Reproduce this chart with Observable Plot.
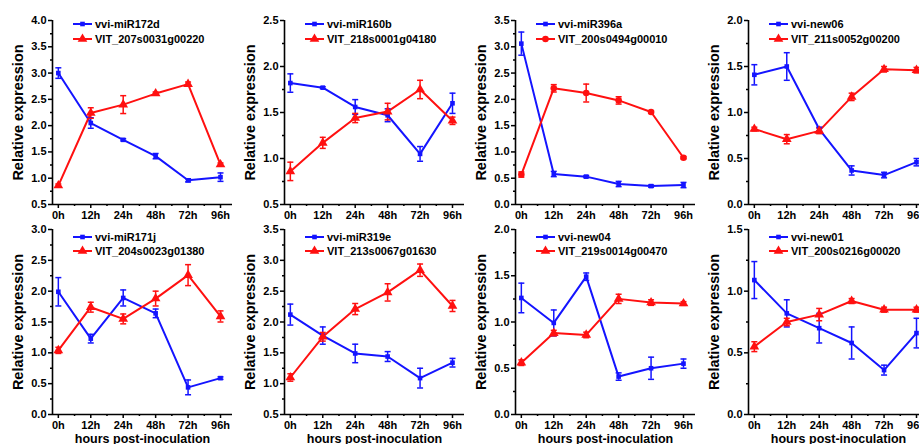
<!DOCTYPE html>
<html><head><meta charset="utf-8">
<script src="https://cdn.jsdelivr.net/npm/d3@7"></script>
<script src="https://cdn.jsdelivr.net/npm/@observablehq/plot@0.6"></script>
<style>
body{margin:0;background:#fff;}
#wrap{position:relative;width:919px;height:444px;overflow:hidden;font-family:"Liberation Sans",Arial,sans-serif;font-weight:bold;}
.panel{position:absolute;width:232px;height:222px;}
.panel svg{overflow:visible;}
.legend{position:absolute;}
</style></head><body><div id="wrap"></div>
<script>
const times = ["0h","12h","24h","48h","72h","96h"];
const mirNames = ["vvi-miR172d","vvi-miR160b","vvi-miR396a","vvi-new06","vvi-miR171j","vvi-miR319e","vvi-new04","vvi-new01"];
const geneNames = ["VIT_207s0031g00220","VIT_218s0001g04180","VIT_200s0494g00010","VIT_211s0052g00200","VIT_204s0023g01380","VIT_213s0067g01630","VIT_219s0014g00470","VIT_200s0216g00020"];
const mirValues = [
  [3.00,2.05,1.73,1.42,0.96,1.02],
  [1.82,1.77,1.56,1.47,1.05,1.60],
  [3.06,0.58,0.53,0.39,0.35,0.37],
  [1.41,1.50,0.82,0.37,0.32,0.46],
  [1.99,1.23,1.89,1.64,0.44,0.59],
  [2.12,1.78,1.49,1.44,1.09,1.34],
  [1.26,0.99,1.49,0.41,0.50,0.55],
  [1.09,0.82,0.70,0.58,0.36,0.66]
];
const mirErrors = [
  [0.10,0.10,0.02,0.05,0.03,0.08],
  [0.10,0.01,0.08,0.07,0.08,0.11],
  [0.22,0.05,0.02,0.05,0.02,0.05],
  [0.11,0.15,0.02,0.05,0.03,0.04],
  [0.23,0.07,0.13,0.07,0.12,0.02],
  [0.17,0.14,0.15,0.08,0.16,0.07],
  [0.16,0.14,0.04,0.04,0.12,0.05],
  [0.15,0.11,0.12,0.13,0.04,0.12]
];
const geneValues = [
  [0.86,2.24,2.40,2.61,2.79,1.26],
  [0.86,1.17,1.44,1.51,1.75,1.41],
  [0.57,2.21,2.12,1.98,1.76,0.89],
  [0.82,0.71,0.80,1.17,1.47,1.46],
  [1.04,1.74,1.55,1.88,2.26,1.59],
  [1.10,1.76,2.21,2.48,2.84,2.26],
  [0.56,0.88,0.86,1.25,1.21,1.20],
  [0.55,0.75,0.81,0.92,0.85,0.85]
];
const geneErrors = [
  [0.03,0.10,0.17,0.03,0.04,0.03],
  [0.10,0.06,0.05,0.09,0.10,0.04],
  [0.05,0.07,0.17,0.07,0.02,0.02],
  [0.02,0.05,0.03,0.04,0.03,0.03],
  [0.05,0.08,0.08,0.12,0.17,0.09],
  [0.06,0.07,0.09,0.14,0.10,0.09],
  [0.03,0.03,0.03,0.05,0.03,0.02],
  [0.04,0.03,0.05,0.02,0.02,0.02]
];
const yDomains = [[0.5,4.0],[0.5,2.5],[0,3.5],[0,2],[0,3],[0.5,3.5],[0,2],[0,1.5]];
const geneSymbols = ["triangle","triangle","circle","triangle","triangle","triangle","triangle","triangle"];

const BLUE = "#1414ff", RED = "#ff1010";
const capSymbol = {draw(ctx, size){ const w = Math.sqrt(size/Math.PI); ctx.moveTo(-w,0); ctx.lineTo(w,0); }};
const wrap = document.getElementById("wrap");
const lefts = [0,232,463,696];

for (let p = 0; p < 8; p++) {
  const row = Math.floor(p/4), col = p%4;
  const mt = row === 0 ? 20 : 7, mb = row === 0 ? 18 : 30;
  const [y0, y1] = yDomains[p];
  const mir = times.map((t,i)=>({i, v: mirValues[p][i], e: mirErrors[p][i]}));
  const gene = times.map((t,i)=>({i, v: geneValues[p][i], e: geneErrors[p][i]}));
  const caps = s => s.flatMap(d=>[{i:d.i, y:d.v-d.e},{i:d.i, y:d.v+d.e}]);
  const xmin = -0.18, xmax = 5.37;
  const marks = [
    Plot.axisY(d3.range(y0, y1+1e-9, 0.5), {tickSize:4, tickPadding:2, strokeWidth:1.5, tickFormat:d=>d.toFixed(1), label:null}),
    Plot.axisY(d3.range(y0+0.25, y1, 0.5), {tickSize:2, strokeWidth:1.5, tickFormat:()=>"", label:null}),
    Plot.axisX(d3.range(times.length), {tickSize:4, tickPadding:3, strokeWidth:1.5, tickFormat:i=>times[i], label:null}),
    Plot.axisX(d3.range(times.length-1).map(i=>i+0.5), {tickSize:2, strokeWidth:1.5, tickFormat:()=>"", label:null}),
    Plot.ruleY([y0], {stroke:"black", strokeWidth:1.6}),
    Plot.ruleX([xmin], {stroke:"black", strokeWidth:1.6}),
    Plot.text(["Relative expression"], {text:d=>d, frameAnchor:"left", textAnchor:"middle", rotate:-90, dx:-34, fontSize:14.5, fontWeight:"bold"}),
    Plot.line(mir, {x:"i", y:"v", stroke:BLUE, strokeWidth:2}),
    Plot.line(gene, {x:"i", y:"v", stroke:RED, strokeWidth:2}),
    Plot.ruleX(mir, {x:"i", y1:d=>d.v-d.e, y2:d=>d.v+d.e, stroke:BLUE, strokeWidth:1.5}),
    Plot.ruleX(gene, {x:"i", y1:d=>d.v-d.e, y2:d=>d.v+d.e, stroke:RED, strokeWidth:1.5}),
    Plot.dot(caps(mir), {x:"i", y:"y", symbol:capSymbol, r:3, stroke:BLUE, strokeWidth:1.5}),
    Plot.dot(caps(gene), {x:"i", y:"y", symbol:capSymbol, r:3, stroke:RED, strokeWidth:1.5}),
    Plot.dot(mir, {x:"i", y:"v", symbol:"square", r:2.6, fill:BLUE}),
    Plot.dot(gene, {x:"i", y:"v", symbol:geneSymbols[p], r: geneSymbols[p]==="circle" ? 3.3 : 3.6, fill:RED})
  ];
  if (row === 1) marks.push(Plot.text(["hours post-inoculation"], {text:d=>d, frameAnchor:"bottom", lineAnchor:"middle", dy:24, fontSize:12.5, fontWeight:"bold"}));
  const chart = Plot.plot({
    width: 232, height: 222,
    marginLeft: 52, marginRight: 0, marginTop: mt, marginBottom: mb,
    style: {fontFamily:'"Liberation Sans", Arial, sans-serif', fontWeight:"bold", fontSize:"11px", color:"black", background:"transparent"},
    x: {type:"linear", domain:[xmin, xmax], axis:null},
    y: {domain:[y0, y1], axis:null},
    marks
  });
  const div = document.createElement("div");
  div.className = "panel";
  div.style.left = lefts[col] + "px";
  div.style.top = (row*222) + "px";
  div.appendChild(chart);
  // legend
  const ly = row === 0 ? [mt+4, mt+19] : [mt+8, mt+22];
  const ns = "http://www.w3.org/2000/svg";
  const lg = document.createElementNS(ns, "svg");
  lg.setAttribute("width", 180); lg.setAttribute("height", 222);
  lg.setAttribute("class","legend");
  lg.style.left = "0px"; lg.style.top = "0px";
  const entries = [[mirNames[p], BLUE, "square"], [geneNames[p], RED, geneSymbols[p]]];
  entries.forEach(([name, color, sym], k) => {
    const y = ly[k];
    const ln = document.createElementNS(ns, "line");
    ln.setAttribute("x1", 73); ln.setAttribute("x2", 92); ln.setAttribute("y1", y); ln.setAttribute("y2", y);
    ln.setAttribute("stroke", color); ln.setAttribute("stroke-width", 2);
    lg.appendChild(ln);
    const path = document.createElementNS(ns, "path");
    const type = sym === "square" ? d3.symbolSquare : sym === "circle" ? d3.symbolCircle : d3.symbolTriangle;
    const r = sym === "square" ? 2.6 : sym === "circle" ? 3.3 : 3.6;
    path.setAttribute("d", d3.symbol(type, Math.PI*r*r)());
    path.setAttribute("transform", `translate(82.5,${y})`);
    path.setAttribute("fill", color);
    lg.appendChild(path);
    const tx = document.createElementNS(ns, "text");
    tx.setAttribute("x", 95); tx.setAttribute("y", y); tx.setAttribute("dy", "0.35em");
    tx.setAttribute("font-size", 11); tx.setAttribute("font-weight", "bold");
    tx.setAttribute("font-family", '"Liberation Sans", Arial, sans-serif');
    tx.textContent = name;
    lg.appendChild(tx);
  });
  div.appendChild(lg);
  wrap.appendChild(div);
}
</script></body></html>
